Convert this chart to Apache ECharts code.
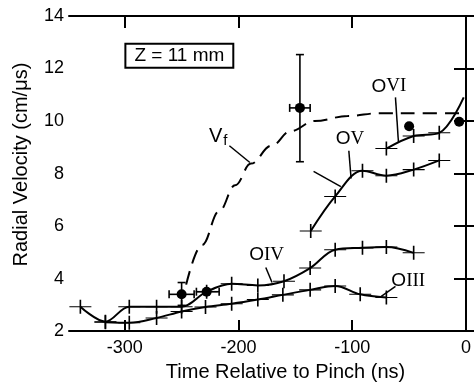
<!DOCTYPE html>
<html><head><meta charset="utf-8">
<script src="https://cdn.jsdelivr.net/npm/echarts@6/dist/echarts.min.js"></script>
<style>html,body{margin:0;padding:0;background:#fff}#c{width:474px;height:387px}</style>
</head><body><div id="c"></div>
<script>
// ---- data ----
const xTickValues = [-300, -200, -100, 0];
const yTickValues = [2, 4, 6, 8, 10, 12, 14];
const oIII = [[-317,2.34],[-296,2.32],[-272,2.5],[-250,2.75],[-229,2.92],[-206,3.04],[-183,3.2],[-161,3.38],[-137,3.57],[-115,3.72],[-93,3.4],[-70,3.28]];
const oIV = [[-339,2.93],[-317,2.36],[-296,2.93],[-272,2.93],[-250,2.93],[-228,3.5],[-206,3.8],[-183,3.74],[-160,3.9],[-137,4.4],[-115,5.1],[-91,5.17],[-70,5.2],[-46,4.98]];
const oV = [[-136.5,5.81],[-115,7.13],[-91,8.11],[-70,7.92],[-46,8.15],[-23.5,8.5]];
const oVI = [[-70,8.95],[-46,9.43],[-23.5,9.55]];
const oVIEnd = [-2,10.9];
const vf = [[-246,3.77],[-232,5.28],[-217,6.57],[-203,7.55],[-189,8.38],[-171,9.06],[-154,9.62],[-133,10.0],[-104,10.19],[-76,10.3],[-40,10.3],[0,10.3]];
// measured points: [t, v, tLow, tHigh, vLow, vHigh]
const vfPoints = [[-250,3.4,-261,-239,2.98,3.85],[-228,3.5,-237,-217,3.5,3.5],[-146,10.5,-155,-137,8.45,12.53],[-50,9.8,-50,-50,9.8,9.8],[-6,9.97,-6,-6,9.97,9.97]];
// annotations
const labels = [["V","f",-226,9.43],["O","V",-114.5,9.32],["O","VI",-83,11.32],["O","IV",-190.6,4.9],["O","III",-65.6,3.92]];
const pointers = [[-208,9.06,-190,8.42],[-103,8.87,-101,7.81],[-134,8.08,-110,7.5],[-62,10.9,-59.4,9.2],[-176,4.42,-170.5,3.85],[-62,3.7,-74.5,3.32]];
const boxLabel = ["Z = 11 mm", -252, 12.49];

const SANS = '"Liberation Sans", Arial, sans-serif';
const SERIF = '"Liberation Serif", "DejaVu Serif", serif';
const crossSym = 'path://M0 7H22M11 0V14';

function curve(name, data, extra) {
  return Object.assign({
    name, type: 'line', data, smooth: 0.35, xAxisIndex: 0, yAxisIndex: 0,
    symbol: crossSym, symbolSize: [22, 14],
    itemStyle: { color: '#000', borderColor: '#000', borderWidth: 1.3 },
    lineStyle: { color: '#000', width: 2 },
    emphasis: { disabled: true }, z: 3
  }, extra || {});
}

const chart = echarts.init(document.getElementById('c'), null, { renderer: 'canvas' });
const option = {
  animation: false,
  backgroundColor: '#fff',
  grid: { left: 69, right: 6, top: 16, bottom: 53 },
  xAxis: [{
    type: 'value', min: -349, max: 0, position: 'bottom',
    name: 'Time Relative to Pinch (ns)', nameLocation: 'middle', nameGap: 28,
    nameTextStyle: { color: '#000', fontSize: 20, fontFamily: SANS, padding: [0, 0, 0, 36] },
    axisLine: { lineStyle: { color: '#000', width: 2 } },
    axisTick: { inside: true, length: 11, customValues: xTickValues, lineStyle: { color: '#000', width: 2 } },
    axisLabel: { customValues: xTickValues, color: '#000', fontSize: 18, fontFamily: SANS, margin: 8,
      formatter: v => String(v) },
    splitLine: { show: false }
  }, {
    type: 'value', min: -349, max: 0, position: 'top',
    axisLine: { lineStyle: { color: '#000', width: 2 } },
    axisTick: { inside: true, length: 12, customValues: [-300, -200, -100], lineStyle: { color: '#000', width: 2 } },
    axisLabel: { show: false }, splitLine: { show: false }
  }],
  yAxis: [{
    type: 'value', min: 2, max: 14, interval: 2, position: 'left',
    name: 'Radial Velocity (cm/\u03bcs)', nameLocation: 'middle', nameGap: 38, nameRotate: 90,
    nameTextStyle: { color: '#000', fontSize: 20, fontFamily: SANS, padding: [0, 0, 0, 18] },
    axisLine: { lineStyle: { color: '#000', width: 2 } },
    axisTick: { inside: true, length: 11, lineStyle: { color: '#000', width: 2 } },
    axisLabel: { color: '#000', fontSize: 18, fontFamily: SANS, margin: 5,
      customValues: yTickValues },
    splitLine: { show: false }
  }, {
    type: 'value', min: 2, max: 14, interval: 2, position: 'right',
    axisLine: { lineStyle: { color: '#000', width: 2 } },
    axisTick: { inside: true, length: 12, lineStyle: { color: '#000', width: 2 } },
    axisLabel: { show: false }, splitLine: { show: false }
  }],
  series: [
    curve('OIII', oIII),
    curve('OIV', oIV),
    curve('OV', oV),
    curve('OVI', oVI.map(p => p).concat([{ value: oVIEnd, symbol: 'none' }])),
    {
      name: 'Vf', type: 'line', data: vf, smooth: 0.4, smoothMonotone: 'x', symbol: 'none',
      lineStyle: { color: '#000', width: 2, type: [14, 8] }, z: 2
    },
    {
      name: 'points', type: 'scatter', data: vfPoints.map(p => [p[0], p[1]]),
      symbol: 'circle', symbolSize: 10, itemStyle: { color: '#000', opacity: 1 }, z: 7
    },
    {
      name: 'errors', type: 'custom', data: vfPoints, z: 4,
      renderItem: function (params, api) {
        const t = api.value(0), v = api.value(1), tl = api.value(2), th = api.value(3), vl = api.value(4), vh = api.value(5);
        const ls = { stroke: '#000', lineWidth: 1.6 };
        const ch = [];
        const cap = 4;
        if (th > tl) {
          const a = api.coord([tl, v]), b = api.coord([th, v]);
          ch.push({ type: 'line', shape: { x1: a[0], y1: a[1], x2: b[0], y2: b[1] }, style: ls });
          ch.push({ type: 'line', shape: { x1: a[0], y1: a[1] - cap, x2: a[0], y2: a[1] + cap }, style: ls });
          ch.push({ type: 'line', shape: { x1: b[0], y1: b[1] - cap, x2: b[0], y2: b[1] + cap }, style: ls });
        }
        if (vh > vl) {
          const a = api.coord([t, vl]), b = api.coord([t, vh]);
          ch.push({ type: 'line', shape: { x1: a[0], y1: a[1], x2: b[0], y2: b[1] }, style: ls });
          ch.push({ type: 'line', shape: { x1: a[0] - cap, y1: a[1], x2: a[0] + cap, y2: a[1] }, style: ls });
          ch.push({ type: 'line', shape: { x1: b[0] - cap, y1: b[1], x2: b[0] + cap, y2: b[1] }, style: ls });
        }
        return { type: 'group', children: ch };
      }
    },
    {
      name: 'pointers', type: 'custom', data: pointers, z: 4,
      renderItem: function (params, api) {
        const a = api.coord([api.value(0), api.value(1)]), b = api.coord([api.value(2), api.value(3)]);
        return { type: 'line', shape: { x1: a[0], y1: a[1], x2: b[0], y2: b[1] }, style: { stroke: '#000', lineWidth: 1.5 } };
      }
    },
    {
      name: 'labels', type: 'custom', data: labels.map(l => [l[2], l[3], l[0], l[1]]), z: 6,
      dimensions: ['t', 'v', 'a', 'b'],
      encode: { x: 0, y: 1 },
      renderItem: function (params, api) {
        const p = api.coord([api.value(0), api.value(1)]);
        const l = labels[params.dataIndex];
        const isV = l[0] === 'V';
        return {
          type: 'text', x: p[0], y: p[1],
          style: {
            text: isV ? '{v|V}{f|f}' : '{o|O}{n|' + l[1] + '}',
            verticalAlign: 'middle', align: 'left',
            rich: {
              v: { fontFamily: SANS, fontSize: 20, fill: '#000' },
              f: { fontFamily: SANS, fontSize: 15, fill: '#000', padding: [10, 0, 0, 1] },
              o: { fontFamily: SANS, fontSize: 19, fill: '#000' },
              n: { fontFamily: SERIF, fontSize: 19, fill: '#000' }
            }
          }
        };
      }
    },
    {
      name: 'box', type: 'custom', data: [[boxLabel[1], boxLabel[2]]], z: 6,
      renderItem: function (params, api) {
        const p = api.coord([api.value(0), api.value(1)]);
        return {
          type: 'text', x: p[0], y: p[1],
          style: {
            text: boxLabel[0], align: 'center', verticalAlign: 'middle',
            font: '19px ' + SANS, fill: '#000',
            borderColor: '#000', borderWidth: 2, padding: [2, 8, 1, 8], backgroundColor: '#fff'
          }
        };
      }
    }
  ]
};
chart.setOption(option);
</script></body></html>
